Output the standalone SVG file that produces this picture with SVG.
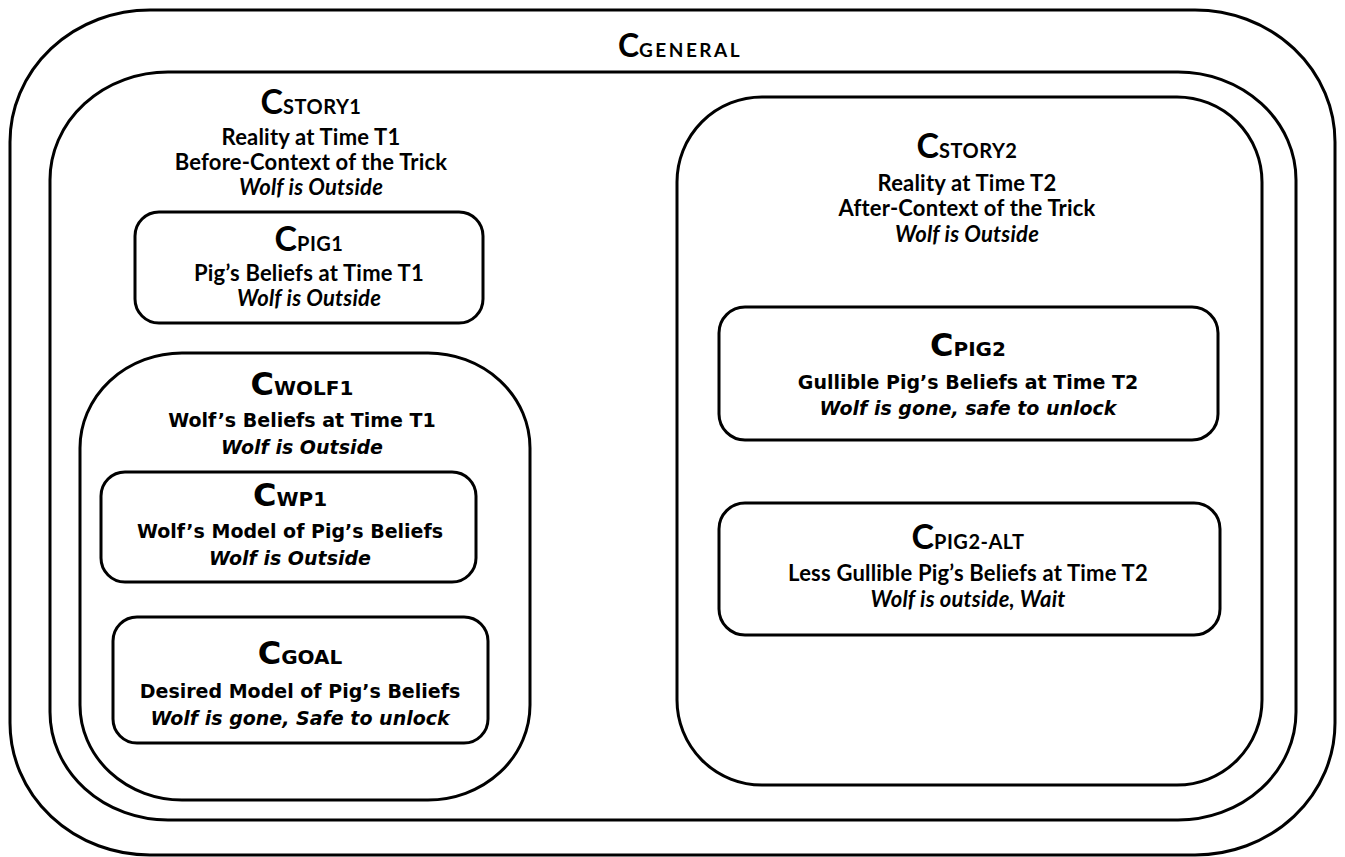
<svg xmlns="http://www.w3.org/2000/svg" width="1345" height="857" viewBox="0 0 1345 857">
<style>
.box{fill:none;stroke:#000;stroke-width:3}
text{text-anchor:middle;fill:#000;font-weight:bold}
.c{font-family:Lato,"Open Sans","Liberation Sans",sans-serif}
.v{font-family:"DejaVu Sans",Verdana,sans-serif}
.c .big{font-size:34px}
.c .sm{font-size:20px;letter-spacing:0.5px}
.v .big{font-size:32px}
.v .sm{font-size:20px}
.t{font-size:22px;letter-spacing:0.2px}
.tv{font-size:19px}
.i{font-style:italic}
</style>
<rect width="1345" height="857" fill="#fff"/>
<g id="general">
<rect class="box" x="10" y="10" width="1325" height="845" rx="140" ry="132"/>
<text class="c" x="680" y="57"><tspan class="big" style="font-size:32px">C</tspan><tspan class="sm" style="font-size:19px;letter-spacing:2.5px">GENERAL</tspan></text>
</g>
<g id="story1">
<rect class="box" x="50" y="72" width="1246" height="748" rx="118" ry="108"/>
<text class="c" x="311" y="114"><tspan class="big">C</tspan><tspan class="sm">STORY1</tspan></text>
<text class="c t" x="311" y="145">Reality at Time T1</text>
<text class="c t" x="311" y="170">Before-Context of the Trick</text>
<text class="c t i" x="311" y="195">Wolf is Outside</text>
</g>
<g id="pig1">
<rect class="box" x="135" y="212" width="348" height="111" rx="24"/>
<text class="c" x="309" y="251"><tspan class="big">C</tspan><tspan class="sm">PIG1</tspan></text>
<text class="c t" x="309" y="281">Pig’s Beliefs at Time T1</text>
<text class="c t i" x="309" y="306">Wolf is Outside</text>
</g>
<g id="wolf1">
<rect class="box" x="80" y="353" width="450" height="447" rx="102" ry="95"/>
<text class="v" x="302" y="395"><tspan class="big">C</tspan><tspan class="sm">WOLF1</tspan></text>
<text class="v tv" x="302" y="427">Wolf’s Beliefs at Time T1</text>
<text class="v tv i" x="302" y="454">Wolf is Outside</text>
</g>
<g id="wp1">
<rect class="box" x="101" y="472" width="375" height="110" rx="24"/>
<text class="v" x="290" y="506"><tspan class="big">C</tspan><tspan class="sm">WP1</tspan></text>
<text class="v tv" x="290" y="538">Wolf’s Model of Pig’s Beliefs</text>
<text class="v tv i" x="290" y="565">Wolf is Outside</text>
</g>
<g id="goal">
<rect class="box" x="113" y="617" width="375" height="126" rx="24"/>
<text class="v" x="300" y="664"><tspan class="big">C</tspan><tspan class="sm">GOAL</tspan></text>
<text class="v tv" x="300" y="698">Desired Model of Pig’s Beliefs</text>
<text class="v tv i" x="300" y="725">Wolf is gone, Safe to unlock</text>
</g>
<g id="story2">
<rect class="box" x="677" y="97" width="585" height="688" rx="85"/>
<text class="c" x="967" y="158"><tspan class="big">C</tspan><tspan class="sm">STORY2</tspan></text>
<text class="c t" x="967" y="191">Reality at Time T2</text>
<text class="c t" x="967" y="216">After-Context of the Trick</text>
<text class="c t i" x="967" y="242">Wolf is Outside</text>
</g>
<g id="pig2">
<rect class="box" x="719" y="307" width="499" height="133" rx="26"/>
<text class="v" x="968" y="356"><tspan class="big">C</tspan><tspan class="sm">PIG2</tspan></text>
<text class="v tv" x="968" y="389">Gullible Pig’s Beliefs at Time T2</text>
<text class="v tv i" x="968" y="415">Wolf is gone, safe to unlock</text>
</g>
<g id="pig2alt">
<rect class="box" x="719" y="503" width="501" height="132" rx="26"/>
<text class="c" x="968" y="549"><tspan class="big">C</tspan><tspan class="sm">PIG2-ALT</tspan></text>
<text class="c t" x="968" y="581">Less Gullible Pig’s Beliefs at Time T2</text>
<text class="c t i" x="968" y="607">Wolf is outside, Wait</text>
</g>
<g id="connectors"></g>
</svg>
